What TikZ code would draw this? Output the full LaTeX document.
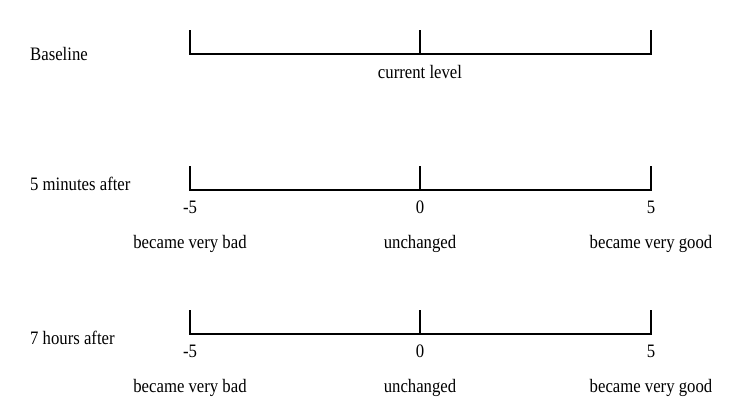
\documentclass[tikz,border=0pt]{standalone}
\usepackage{fontspec}
\setmainfont[FakeStretch=0.88]{Liberation Serif}
\usepackage{tikz}
\usetikzlibrary{positioning}
\tikzset{
  scaleline/.style={line width=1.7pt, line cap=rect},
  rowlbl/.style={anchor=west, inner sep=0pt, font=\fontsize{19}{22}\selectfont},
  numlbl/.style={inner sep=0pt, font=\fontsize{19}{22}\selectfont},
  endlbl/.style={inner sep=0pt, font=\fontsize{19}{22}\selectfont}
}

\begin{document}
\begin{tikzpicture}[x=1pt, y=-1pt]
  \useasboundingbox (0,0) rectangle (750,419);
  % baseline row
  \node[rowlbl] (base) at (30,54) {Baseline};
  \coordinate (bl) at (190,54);
  \coordinate (bm) at (420,54);
  \coordinate (br) at (651,54);
  \coordinate (blt) at (190,31);
  \coordinate (bmt) at (420,31);
  \coordinate (brt) at (651,31);
  \draw[scaleline] (blt) -- (bl) -- (br) -- (brt);
  \draw[scaleline] (bm) -- (bmt);
  \node[endlbl] (cur) at (420,72) {current level};
  % 5 minutes row
  \node[rowlbl] (five) at (30,184) {5 minutes after};
  \coordinate (fl) at (190,190);
  \coordinate (fm) at (420,190);
  \coordinate (fr) at (651,190);
  \coordinate (flt) at (190,167);
  \coordinate (fmt) at (420,167);
  \coordinate (frt) at (651,167);
  \draw[scaleline] (flt) -- (fl) -- (fr) -- (frt);
  \draw[scaleline] (fm) -- (fmt);
  \node[numlbl] (fn1) at (190,207) {-5};
  \node[numlbl] (fn2) at (420,207) {0};
  \node[numlbl] (fn3) at (651,207) {5};
  \node[endlbl] (fb) at (190,244) {became very bad};
  \node[endlbl] (fu) at (420,244) {unchanged};
  \node[endlbl] (fg) at (651,244) {became very good};
  % 7 hours row
  \node[rowlbl] (seven) at (30,338) {7 hours after};
  \coordinate (sl) at (190,334);
  \coordinate (sm) at (420,334);
  \coordinate (sr) at (651,334);
  \coordinate (slt) at (190,311);
  \coordinate (smt) at (420,311);
  \coordinate (srt) at (651,311);
  \draw[scaleline] (slt) -- (sl) -- (sr) -- (srt);
  \draw[scaleline] (sm) -- (smt);
  \node[numlbl] (sn1) at (190,351) {-5};
  \node[numlbl] (sn2) at (420,351) {0};
  \node[numlbl] (sn3) at (651,351) {5};
  \node[endlbl] (sb) at (190,388) {became very bad};
  \node[endlbl] (su) at (420,388) {unchanged};
  \node[endlbl] (sg) at (651,388) {became very good};
\end{tikzpicture}
\end{document}
